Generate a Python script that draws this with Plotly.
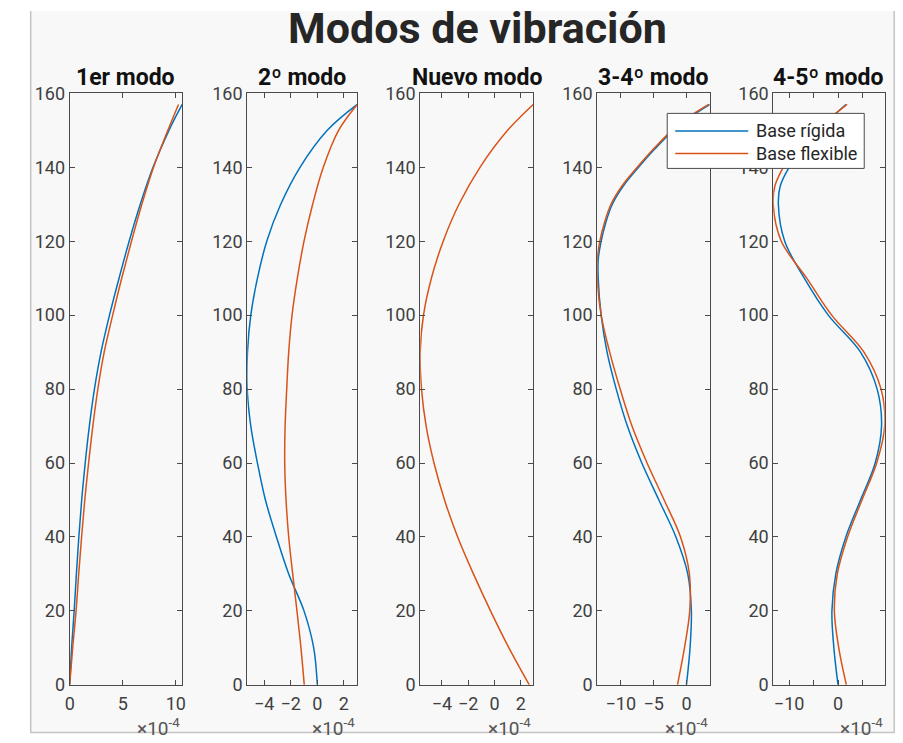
import plotly.graph_objects as go

# ---------------- data (x values in units of 1e-4) ----------------
heights = [0, 10, 20, 30, 40, 50, 60, 70, 80, 90, 100, 110, 120, 130, 140, 150, 157]
heights4 = [0, 10, 20, 30, 40, 50, 60, 70, 80, 90, 100, 110, 115, 120, 125, 130, 135, 140, 145, 150, 154, 157]
heights5 = [0, 10, 20, 30, 40, 50, 60, 70, 80, 90, 100, 110, 120, 130, 135, 140, 145, 150, 154, 157]

rigida1 = [0, 0.18, 0.42, 0.63, 0.86, 1.13, 1.46, 1.85, 2.33, 2.95, 3.75, 4.65, 5.6, 6.65, 7.85, 9.35, 10.6]
flexible1 = [0, 0.28, 0.6, 0.85, 1.12, 1.42, 1.78, 2.18, 2.65, 3.25, 4.05, 4.9, 5.82, 6.8, 7.9, 9.25, 10.25]

rigida2 = [0, -0.27, -1.0, -2.15, -3.07, -3.9, -4.5, -5.0, -5.27, -5.25, -5.0, -4.5, -3.8, -2.75, -1.3, 0.75, 3.0]
flexible2 = [-0.98, -1.23, -1.53, -1.85, -2.15, -2.35, -2.45, -2.42, -2.3, -2.15, -1.9, -1.5, -1.0, -0.35, 0.45, 1.6, 3.0]

flexible3 = [2.65, 1.1, -0.3, -1.6, -2.8, -3.8, -4.6, -5.2, -5.55, -5.65, -5.4, -4.8, -3.9, -2.7, -1.1, 1.0, 2.95]

rigida4 = [0, 0.55, 0.75, 0.2, -1.6, -4.2, -6.8, -9.0, -10.7, -12.1, -13.0, -13.45, -13.45, -13.0, -12.3,
           -11.3, -9.6, -7.3, -4.8, -2.0, 0.9, 3.55]
flexible4 = [-1.37, -0.3, 0.5, 0.45, -0.9, -3.4, -6.0, -8.3, -10.1, -11.7, -13.0, -13.6, -13.6, -13.2, -12.5,
             -11.5, -9.8, -7.5, -5.0, -2.2, 0.7, 3.4]

rigida5 = [0, -0.85, -1.25, -0.45, 1.6, 4.6, 7.6, 8.9, 8.0, 4.6, -2.0, -6.9, -10.9, -12.2, -11.8, -10.0, -7.3, -3.9, -0.9, 1.6]
flexible5 = [1.7, 0.15, -0.75, -0.15, 1.95, 4.9, 7.9, 9.55, 8.8, 5.3, -1.3, -6.4, -11.6, -13.25, -12.9, -11.2, -8.7, -4.7, -1.0, 1.85]

titles = ["1er modo", "2º modo", "Nuevo modo", "3-4º modo", "4-5º modo"]
xtickvals = [[0, 5, 10], [-4, -2, 0, 2], [-4, -2, 0, 2], [-10, -5, 0], [-10, 0]]
xminorvals = [[], [], [], [], [-5, 5]]
ytickvals = [0, 20, 40, 60, 80, 100, 120, 140, 160]
series_names = ["Base rígida", "Base flexible"]
main_title = "Modos de vibración"
exponent = "×10<sup>-4</sup>"

panels = [
    (heights, rigida1, flexible1),
    (heights, rigida2, flexible2),
    (heights, None, flexible3),
    (heights4, rigida4, flexible4),
    (heights5, rigida5, flexible5),
]

# ---------------- layout geometry ----------------
# positions below are the target picture's pixels; the photo of the page is
# slightly offset/scaled, so they are mapped back to page pixels first.
W, H = 903, 743
AX, SX = 4.8, 0.990
AY, SY = 10.7, 0.971
ax_left = [69.5, 247, 420, 597, 773]
ax_right = [182, 357, 533, 709.5, 884.5]
ax_top, ax_bot = 93, 684
BLUE = "#0072BD"
ORANGE = "#D95319"
AXC = "#4a4a4a"
TXT = "#404040"
FONT = "Roboto"


def px(x):
    return ((x - AX) / SX) / W


def py(y):
    return 1 - ((y - AY) / SY) / H


def pyp(page_y):
    return 1 - page_y / H


fig = go.Figure()
layout = dict(
    width=W, height=H,
    margin=dict(l=0, r=0, t=0, b=0),
    paper_bgcolor="white",
    plot_bgcolor="rgba(0,0,0,0)",
    showlegend=False,
    font=dict(family=FONT, color=TXT),
)

annotations = []
fx0, fx1, fyb = px(30.5), px(894), pyp(742.4)
shapes = [
    dict(type="rect", xref="paper", yref="paper", x0=fx0, x1=fx1, y0=fyb, y1=1,
         fillcolor="#f8f8f8", line=dict(width=0), layer="below"),
    dict(type="path", xref="paper", yref="paper",
         path=f"M {fx0},1 L {fx0},{fyb} L {fx1},{fyb} L {fx1},1",
         line=dict(color="#c4c4c4", width=1.5), layer="below"),
]

for i, (ys, rig, flex) in enumerate(panels):
    k = i + 1
    xa = "x" if k == 1 else f"x{k}"
    ya = "y" if k == 1 else f"y{k}"
    vals = (rig or []) + flex
    lo, hi = min(vals), max(vals)
    if rig is not None:
        fig.add_trace(go.Scatter(x=rig, y=ys, mode="lines", name=series_names[0],
                                 line=dict(color=BLUE, width=1.5, shape="spline", smoothing=1.0),
                                 xaxis=xa, yaxis=ya))
    fig.add_trace(go.Scatter(x=flex, y=ys, mode="lines", name=series_names[1],
                             line=dict(color=ORANGE, width=1.5, shape="spline", smoothing=1.0),
                             xaxis=xa, yaxis=ya))
    common = dict(showline=True, linecolor=AXC, linewidth=1, mirror="ticks",
                  ticks="inside", ticklen=5, tickcolor=AXC, tickwidth=1,
                  showgrid=False, zeroline=False,
                  tickfont=dict(family=FONT, size=18, color=TXT))
    xdef = dict(domain=[px(ax_left[i]), px(ax_right[i])], anchor=ya, range=[lo, hi],
                tickmode="array", tickvals=xtickvals[i], ticklabelstandoff=3, **common)
    if xminorvals[i]:
        xdef["minor"] = dict(tickmode="array", tickvals=xminorvals[i], ticks="inside",
                             ticklen=5, tickcolor=AXC, tickwidth=1, showgrid=False)
    layout["xaxis" if k == 1 else f"xaxis{k}"] = xdef
    layout["yaxis" if k == 1 else f"yaxis{k}"] = dict(
        domain=[py(ax_bot), py(ax_top)], anchor=xa, range=[0, 160],
        tickmode="array", tickvals=ytickvals, ticklabelstandoff=0, **common)
    annotations.append(dict(text=f"<b>{titles[i]}</b>", xref="paper", yref="paper",
                            x=px((ax_left[i] + ax_right[i]) / 2), y=py(77),
                            xanchor="center", yanchor="middle", showarrow=False,
                            font=dict(family=FONT, size=23, color="#111111")))
    annotations.append(dict(text=exponent, xref="paper", yref="paper",
                            x=px(ax_right[i]), y=pyp(737), xanchor="right", yanchor="middle",
                            showarrow=False, font=dict(family=FONT, size=19, color="#555555")))

annotations.append(dict(text=f"<b>{main_title}</b>", xref="paper", yref="paper",
                        x=px(477), y=py(28), xanchor="center", yanchor="middle", showarrow=False,
                        font=dict(family=FONT, size=43, color="#262626")))

# legend (drawn manually, MATLAB style)
lg_l, lg_r, lg_t, lg_b = 667, 864, 113, 168
shapes.append(dict(type="rect", xref="paper", yref="paper", x0=px(lg_l), x1=px(lg_r),
                   y0=py(lg_b), y1=py(lg_t), fillcolor="white",
                   line=dict(color=AXC, width=1), layer="above"))
for name, col, yy in [(series_names[0], BLUE, 130.5), (series_names[1], ORANGE, 153)]:
    shapes.append(dict(type="line", xref="paper", yref="paper", x0=px(675), x1=px(748),
                       y0=py(yy), y1=py(yy), line=dict(color=col, width=1.5), layer="above"))
    annotations.append(dict(text=name, xref="paper", yref="paper", x=px(754), y=py(yy),
                            xanchor="left", yanchor="middle", showarrow=False,
                            font=dict(family=FONT, size=18, color="#262626")))

layout["annotations"] = annotations
layout["shapes"] = shapes
fig.update_layout(**layout)

# pin the figure to the top-left corner of the page (no body margin)
pin_page = (
    "var gd=document.getElementById('{plot_id}');"
    "document.documentElement.style.margin='0';document.body.style.margin='0';"
    "document.documentElement.style.overflow='hidden';document.body.style.overflow='hidden';"
    "gd.style.position='fixed';gd.style.left='0px';gd.style.top='0px';"
)
fig.write_html("out.html", config={"displayModeBar": False}, post_script=pin_page)
